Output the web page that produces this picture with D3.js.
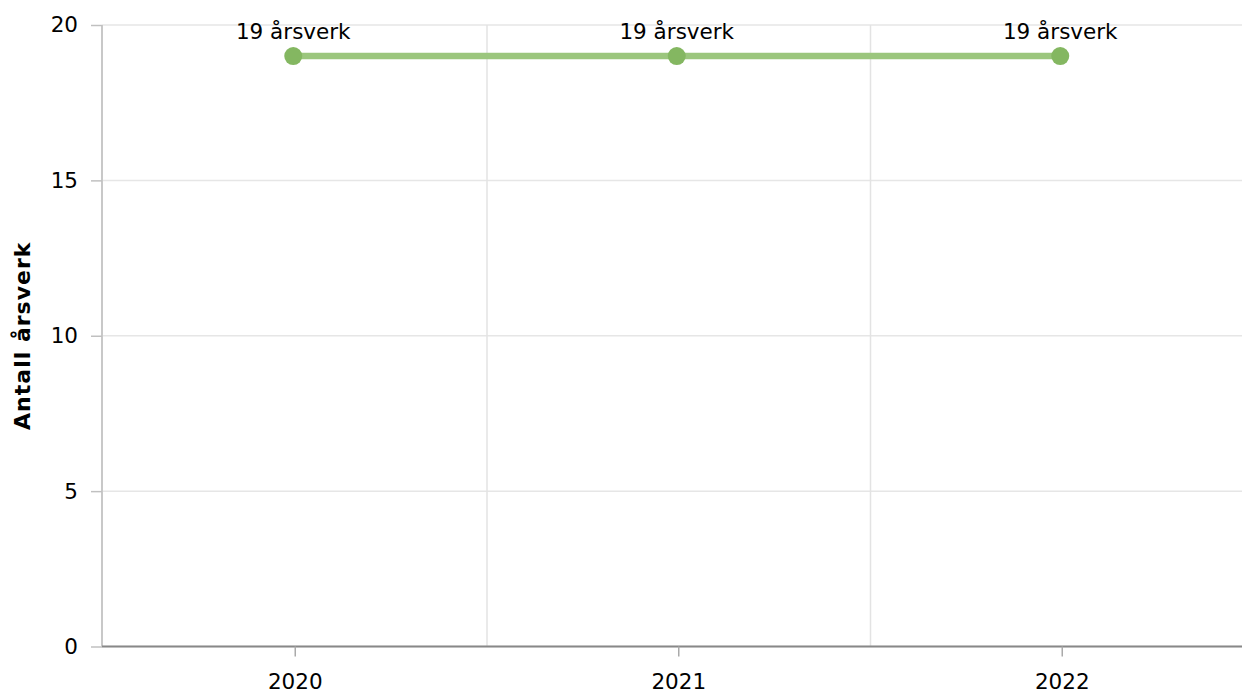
<!DOCTYPE html>
<html><head><meta charset="utf-8">
<script src="https://cdn.jsdelivr.net/npm/d3@7"></script>
<style>
html,body{margin:0;padding:0;background:#fff;}
text{font-family:"DejaVu Sans",Verdana,sans-serif;fill:#000;}
</style></head>
<body><svg id="c" width="1242" height="693"></svg>
<script>
const categories = ["2020","2021","2022"];
const values = [19,19,19];
const dataLabels = ["19 årsverk","19 årsverk","19 årsverk"];
const yTicks = [0,5,10,15,20];
const yTitle = "Antall årsverk";

const W=1242,H=693;
const m={left:102,top:25,bottom:46};
const fs="21.5px";
const svg=d3.select("#c");
const x=d3.scaleBand().domain(categories).range([103.5,103.5+383.5*3]).padding(0);
const y=d3.scaleLinear().domain([0,20]).range([H-m.bottom-0.5,m.top]);
const dotShift=-2;

svg.append("g").selectAll("line").data(yTicks).join("line")
 .attr("x1",m.left).attr("x2",W).attr("y1",d=>y(d)).attr("y2",d=>y(d))
 .attr("stroke","#e6e6e6").attr("stroke-width",1.5);
svg.append("g").selectAll("line").data(categories.slice(1)).join("line")
 .attr("x1",d=>x(d)).attr("x2",d=>x(d)).attr("y1",m.top).attr("y2",y(0))
 .attr("stroke","#e3e3e3").attr("stroke-width",1.5);

const ya=svg.append("g").attr("transform",`translate(${m.left},0)`)
 .call(d3.axisLeft(y).tickValues(yTicks).tickSize(11).tickPadding(13));
ya.select(".domain").attr("stroke","#c8c8c8").attr("stroke-width",2).attr("d",`M0,${m.top}V${y(0)}`);
ya.selectAll(".tick line").attr("stroke","#c0c0c0").attr("stroke-width",1.5);
ya.selectAll(".tick text").style("font-size",fs).attr("fill","#000");

const xa=svg.append("g").attr("transform",`translate(0,${y(0)})`)
 .call(d3.axisBottom(x).tickSize(10).tickPadding(17));
xa.select(".domain").attr("stroke","#888").attr("stroke-width",1.8).attr("d",`M${m.left},0H${W}`);
xa.selectAll(".tick line").attr("stroke","#aaa").attr("stroke-width",1.5);
xa.selectAll(".tick text").style("font-size",fs).attr("fill","#000");

svg.append("text").attr("transform",`translate(30,${(m.top+y(0))/2}) rotate(-90)`)
 .attr("text-anchor","middle").style("font-size","22px").style("font-weight","bold")
 .style("letter-spacing","1px").text(yTitle);

const pts=categories.map((c,i)=>[x(c)+x.bandwidth()/2+dotShift,y(values[i])]);
svg.append("path").attr("d",d3.line()(pts)).attr("fill","none")
 .attr("stroke","#9bc67d").attr("stroke-width",6.5);
svg.append("g").selectAll("circle").data(pts).join("circle")
 .attr("cx",d=>d[0]).attr("cy",d=>d[1]).attr("r",9).attr("fill","#84b761");
svg.append("g").selectAll("text").data(pts).join("text")
 .attr("x",d=>d[0]).attr("y",d=>d[1]-17).attr("text-anchor","middle")
 .style("font-size",fs).text((d,i)=>dataLabels[i]);
</script></body></html>
